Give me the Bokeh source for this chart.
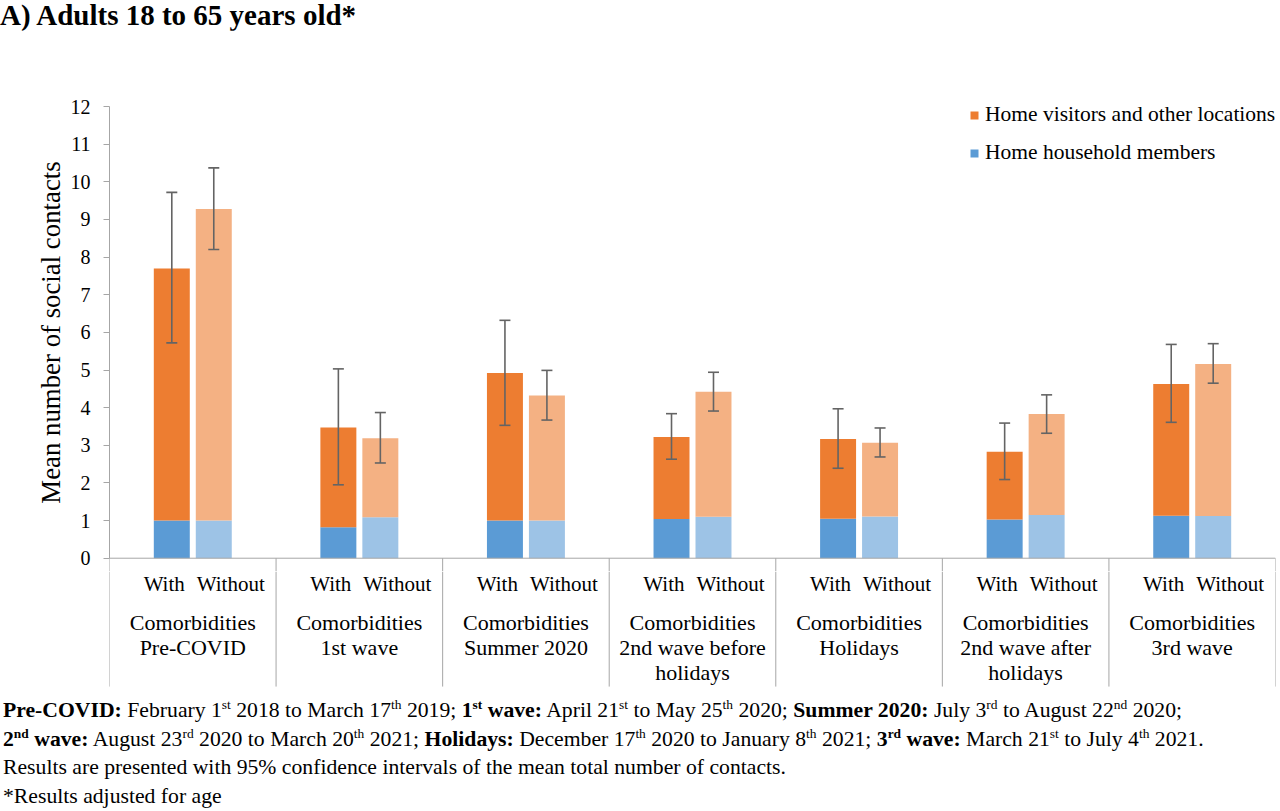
import numpy as np
from bokeh.plotting import figure
from bokeh.models import (ColumnDataSource, Range1d, FixedTicker, Whisker, TeeHead,
                          Legend, LegendItem, Div)
from bokeh.layouts import column
from bokeh.core.properties import value
from bokeh.embed import file_html
from bokeh.resources import INLINE

FONT = "Liberation Serif"

# ---------------- data ----------------
periods = ["Pre-COVID", "1st wave", "Summer 2020", "2nd wave before\nholidays",
           "Holidays", "2nd wave after\nholidays", "3rd wave"]
subgroups = ["With", "Without"]
group_caption = "Comorbidities"

household_with = [1.00, 0.82, 1.00, 1.04, 1.05, 1.03, 1.13]
household_without = [1.00, 1.09, 1.00, 1.10, 1.11, 1.15, 1.12]
total_with = [7.70, 3.47, 4.92, 3.22, 3.17, 2.83, 4.63]
total_without = [9.28, 3.19, 4.32, 4.42, 3.07, 3.83, 5.16]
ci_low_with = [5.72, 1.95, 3.53, 2.63, 2.39, 2.09, 3.61]
ci_high_with = [9.72, 5.03, 6.32, 3.84, 3.97, 3.59, 5.68]
ci_low_without = [8.20, 2.53, 3.67, 3.91, 2.69, 3.32, 4.65]
ci_high_without = [10.37, 3.87, 4.99, 4.94, 3.46, 4.34, 5.70]

y_ticks = list(range(0, 13))
legend_labels = ["Home visitors and other locations", "Home household members"]
y_label = "Mean number of social contacts"
title_text = "A) Adults 18 to 65 years old*"

# ---------------- styles ----------------
C_OTHER_WITH = "#ED7D31"
C_OTHER_WITHOUT = "#F4B183"
C_HH_WITH = "#5B9BD5"
C_HH_WITHOUT = "#9DC3E6"
C_AXIS = "#a6a6a6"
C_ERR = "#646464"

W = 1278
n = len(periods)
centers = np.arange(n) + 0.5
off = 0.126
bw = 0.216
Y_TOP, Y_SPLIT, Y_BOTTOM = 12.346, -0.353, -3.674
SEP_END = -3.41

x_range = Range1d(0, n)

# ---------------- main plot (bars) ----------------
p = figure(width=W, height=541, x_range=x_range, y_range=Range1d(Y_SPLIT, Y_TOP),
           output_backend="svg", toolbar_location=None,
           min_border_left=109, min_border_right=3, min_border_top=63, min_border_bottom=0)
p.xaxis.visible = False
p.xgrid.visible = False
p.ygrid.visible = False
p.outline_line_color = None
p.background_fill_color = "white"
p.border_fill_color = "white"

ax = p.yaxis[0]
ax.ticker = FixedTicker(ticks=y_ticks)
ax.bounds = (0, 12)
ax.axis_line_color = C_AXIS
ax.major_tick_line_color = C_AXIS
ax.major_tick_out = 6
ax.major_tick_in = 0
ax.minor_tick_out = 0
ax.minor_tick_in = 0
ax.major_label_text_font = FONT
ax.major_label_text_font_size = "20px"
ax.major_label_text_color = "black"
ax.major_label_standoff = 13
ax.axis_label = y_label
ax.axis_label_text_font = FONT
ax.axis_label_text_font_size = "26.8px"
ax.axis_label_text_font_style = "normal"
ax.axis_label_text_color = "black"
ax.axis_label_standoff = 2

src_w = ColumnDataSource(dict(x=centers - off, hh=household_with, tot=total_with,
                              lo=ci_low_with, hi=ci_high_with))
src_wo = ColumnDataSource(dict(x=centers + off, hh=household_without, tot=total_without,
                               lo=ci_low_without, hi=ci_high_without))

r_hh_w = p.vbar(x="x", width=bw, bottom=0, top="hh", source=src_w,
                fill_color=C_HH_WITH, line_color=None)
r_ot_w = p.vbar(x="x", width=bw, bottom="hh", top="tot", source=src_w,
                fill_color=C_OTHER_WITH, line_color=None)
p.vbar(x="x", width=bw, bottom=0, top="hh", source=src_wo,
       fill_color=C_HH_WITHOUT, line_color=None)
p.vbar(x="x", width=bw, bottom="hh", top="tot", source=src_wo,
       fill_color=C_OTHER_WITHOUT, line_color=None)

for src in (src_w, src_wo):
    wsk = Whisker(source=src, base="x", upper="hi", lower="lo", dimension="height",
                  level="overlay", line_color=C_ERR, line_width=1.6,
                  upper_head=TeeHead(size=11, line_color=C_ERR, line_width=1.6),
                  lower_head=TeeHead(size=11, line_color=C_ERR, line_width=1.6))
    p.add_layout(wsk)

# category axis baseline + start of the group separators
p.segment(x0=[0], y0=[0], x1=[n], y1=[0], line_color=C_AXIS, line_width=1)
p.segment(x0=list(range(n + 1)), y0=[0] * (n + 1), x1=list(range(n + 1)),
          y1=[Y_SPLIT] * (n + 1), line_color=C_AXIS, line_width=1)

legend = Legend(items=[LegendItem(label=legend_labels[0], renderers=[r_ot_w]),
                       LegendItem(label=legend_labels[1], renderers=[r_hh_w])],
                location=(860, 406), glyph_width=10, glyph_height=10, label_standoff=6,
                spacing=13, padding=0, margin=0, border_line_color=None,
                background_fill_alpha=0, label_text_font=FONT,
                label_text_font_size="21.5px", label_text_color="black")
p.add_layout(legend, "center")

# ---------------- category labels (multi-level x axis) ----------------
q = figure(width=W, height=125, x_range=x_range, y_range=Range1d(Y_BOTTOM, Y_SPLIT),
           output_backend="svg", toolbar_location=None,
           min_border_left=109, min_border_right=3, min_border_top=0, min_border_bottom=0)
q.axis.visible = False
q.xgrid.visible = False
q.ygrid.visible = False
q.outline_line_color = None
q.background_fill_color = "white"
q.border_fill_color = "white"

q.segment(x0=list(range(n + 1)), y0=[Y_SPLIT] * (n + 1), x1=list(range(n + 1)),
          y1=[SEP_END] * (n + 1), line_color=C_AXIS, line_width=1)

q.text(x=centers, y=[-0.672] * n, text=[subgroups[0]] * n, text_align="right",
       text_baseline="middle", x_offset=-8, text_font=value(FONT),
       text_font_size="21px", text_color="black")
q.text(x=centers, y=[-0.672] * n, text=[subgroups[1]] * n, text_align="left",
       text_baseline="middle", x_offset=4, text_font=value(FONT),
       text_font_size="21px", text_color="black")

row_y = [-1.708, -2.372, -3.036]
rows = [[group_caption] + lab.split("\n") for lab in periods]
for k in range(3):
    xs, ts = [], []
    for i, r in enumerate(rows):
        if k < len(r):
            xs.append(centers[i])
            ts.append(r[k])
    q.text(x=xs, y=[row_y[k]] * len(xs), text=ts, text_align="center",
           text_baseline="middle", text_font=value(FONT), text_font_size="22px",
           text_color="black")

# ---------------- title and footnotes ----------------
title_div = Div(text=title_text, width=W, height=30, margin=0,
                styles={"font-family": FONT, "font-size": "29px", "font-weight": "bold",
                        "line-height": "30px", "color": "black", "white-space": "nowrap"})

sup = '<sup style="font-size:0.62em; line-height:0; vertical-align:super">%s</sup>'
def s(t):
    return sup % t

foot_html = (
    '<div style="font-family:\'Liberation Serif\'; font-size:21.7px; line-height:28.6px; '
    'color:black; white-space:nowrap; padding-left:3px">'
    f'<b>Pre-COVID:</b> February 1{s("st")} 2018 to March 17{s("th")} 2019; '
    f'<b>1{s("st")} wave:</b> April 21{s("st")} to May 25{s("th")} 2020; '
    f'<b>Summer 2020:</b> July 3{s("rd")} to August 22{s("nd")} 2020;<br>'
    f'<b>2{s("nd")} wave:</b> August 23{s("rd")} 2020 to March 20{s("th")} 2021; '
    f'<b>Holidays:</b> December 17{s("th")} 2020 to January 8{s("th")} 2021; '
    f'<b>3{s("rd")} wave:</b> March 21{s("st")} to July 4{s("th")} 2021.<br>'
    'Results are presented with 95% confidence intervals of the mean total number of contacts.<br>'
    '*Results adjusted for age</div>'
)
foot_div = Div(text=foot_html, width=W, height=114, margin=0)

layout = column(title_div, p, q, foot_div, spacing=0)

open("out.html", "w").write(file_html(layout, INLINE))
